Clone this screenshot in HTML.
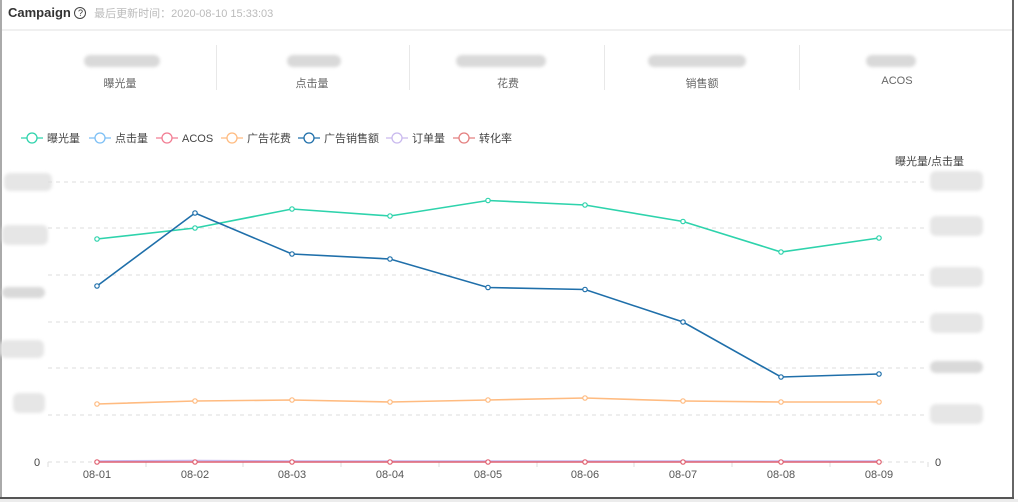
<!DOCTYPE html>
<html><head><meta charset="utf-8"><style>
body{margin:0;width:1018px;height:502px;background:#fff;overflow:hidden;font-family:"Liberation Sans","Noto Sans CJK SC",sans-serif;position:relative}
.b{position:absolute;background:#d9d9d9;border-radius:6px;filter:blur(1.5px)}
.t{position:absolute;font-size:11px;color:#666;text-align:center}
.d{position:absolute;top:45px;width:1px;height:45px;background:#e8e8e8}
</style></head><body>
<div style="position:absolute;left:0;top:0;width:2px;height:502px;background:#aaa"></div>
<div style="position:absolute;right:4px;top:0;width:2px;height:502px;background:#666"></div>
<div style="position:absolute;left:0;bottom:0;width:1018px;height:3px;background:#ececec"></div>
<div style="position:absolute;left:0;top:497px;width:1014px;height:2px;background:#555"></div>
<div style="position:absolute;left:8px;top:5px;font-size:13px;color:#333;font-weight:bold">Campaign <span style="display:inline-block;width:10px;height:10px;border:1.3px solid #444;border-radius:50%;font-size:9px;line-height:10px;text-align:center;font-weight:normal;vertical-align:1px">?</span> <span style="font-weight:normal;color:#bbb;font-size:11px;margin-left:4px">最后更新时间：2020-08-10 15:33:03</span></div>
<div style="position:absolute;left:2px;top:29px;width:1010px;height:2px;background:#f0f0f0"></div>
<div class="b" style="left:84px;top:55px;width:76px;height:12px"></div>
<div class="b" style="left:287px;top:55px;width:54px;height:12px"></div>
<div class="b" style="left:456px;top:55px;width:90px;height:12px"></div>
<div class="b" style="left:648px;top:55px;width:98px;height:12px"></div>
<div class="b" style="left:866px;top:55px;width:50px;height:12px"></div>
<div class="t" style="left:60px;top:75px;width:120px">曝光量</div>
<div class="t" style="left:252px;top:75px;width:120px">点击量</div>
<div class="t" style="left:448px;top:75px;width:120px">花费</div>
<div class="t" style="left:642px;top:75px;width:120px">销售额</div>
<div class="t" style="left:837px;top:75px;width:120px">ACOS</div>
<div class="d" style="left:216px"></div><div class="d" style="left:409px"></div><div class="d" style="left:604px"></div><div class="d" style="left:799px"></div>
<div class="b" style="left:4px;top:173px;width:48px;height:18px;background:#e6e6e6"></div>
<div class="b" style="left:2px;top:225px;width:46px;height:20px;background:#e6e6e6"></div>
<div class="b" style="left:2px;top:287px;width:43px;height:11px"></div>
<div class="b" style="left:0px;top:340px;width:44px;height:18px;background:#e6e6e6"></div>
<div class="b" style="left:13px;top:393px;width:32px;height:20px;background:#e6e6e6"></div>
<div class="b" style="left:930px;top:171px;width:53px;height:20px;background:#e6e6e6"></div>
<div class="b" style="left:930px;top:216px;width:53px;height:20px;background:#e6e6e6"></div>
<div class="b" style="left:930px;top:267px;width:53px;height:20px;background:#e6e6e6"></div>
<div class="b" style="left:930px;top:313px;width:53px;height:20px;background:#e6e6e6"></div>
<div class="b" style="left:930px;top:361px;width:53px;height:12px"></div>
<div class="b" style="left:930px;top:404px;width:53px;height:20px;background:#e6e6e6"></div>
<svg width="1018" height="502" style="position:absolute;left:0;top:0" font-family="Liberation Sans,Noto Sans CJK SC,sans-serif" font-size="11" fill="#333">
<g font-size="11" fill="#444">
<g fill="#fff" stroke-width="1.3">
<line x1="21" y1="138" x2="43" y2="138" stroke="#2ed3ac"/><circle cx="32" cy="138" r="5" stroke="#2ed3ac"/>
<line x1="89" y1="138" x2="111" y2="138" stroke="#7cbff5"/><circle cx="100" cy="138" r="5" stroke="#7cbff5"/>
<line x1="156" y1="138" x2="178" y2="138" stroke="#f27d93"/><circle cx="167" cy="138" r="5" stroke="#f27d93"/>
<line x1="221" y1="138" x2="243" y2="138" stroke="#ffbb80"/><circle cx="232" cy="138" r="5" stroke="#ffbb80"/>
<line x1="298" y1="138" x2="320" y2="138" stroke="#1f6faa"/><circle cx="309" cy="138" r="5" stroke="#1f6faa"/>
<line x1="386" y1="138" x2="408" y2="138" stroke="#c9b9ee"/><circle cx="397" cy="138" r="5" stroke="#c9b9ee"/>
<line x1="453" y1="138" x2="475" y2="138" stroke="#e48080"/><circle cx="464" cy="138" r="5" stroke="#e48080"/>
</g>
<text x="47" y="142">曝光量</text><text x="115" y="142">点击量</text><text x="182" y="142">ACOS</text><text x="247" y="142">广告花费</text><text x="324" y="142">广告销售额</text><text x="412" y="142">订单量</text><text x="479" y="142">转化率</text>
<text x="895" y="165">曝光量/点击量</text>
<text x="34" y="466">0</text><text x="935" y="466">0</text>
</g>
<g stroke="#ddd" stroke-dasharray="4,4"><line x1="48" y1="182" x2="928" y2="182"/><line x1="48" y1="228" x2="928" y2="228"/><line x1="48" y1="275" x2="928" y2="275"/><line x1="48" y1="322" x2="928" y2="322"/><line x1="48" y1="368" x2="928" y2="368"/><line x1="48" y1="415" x2="928" y2="415"/><line x1="48" y1="462" x2="928" y2="462"/></g>
<g stroke="#ddd"><line x1="48" y1="462" x2="48" y2="467"/><line x1="146" y1="462" x2="146" y2="467"/><line x1="243" y1="462" x2="243" y2="467"/><line x1="341" y1="462" x2="341" y2="467"/><line x1="439" y1="462" x2="439" y2="467"/><line x1="537" y1="462" x2="537" y2="467"/><line x1="634" y1="462" x2="634" y2="467"/><line x1="732" y1="462" x2="732" y2="467"/><line x1="830" y1="462" x2="830" y2="467"/><line x1="928" y1="462" x2="928" y2="467"/></g>
<g fill="#555" text-anchor="middle"><text x="97" y="478">08-01</text><text x="195" y="478">08-02</text><text x="292" y="478">08-03</text><text x="390" y="478">08-04</text><text x="488" y="478">08-05</text><text x="585" y="478">08-06</text><text x="683" y="478">08-07</text><text x="781" y="478">08-08</text><text x="879" y="478">08-09</text></g>
<g fill="none" stroke-width="1.6">
<polyline stroke="#c9b9ee" points="97,461 195,460.5 292,461 390,461 488,461 585,461 683,461 781,461 879,461"/>
<polyline stroke="#e06070" points="97,462 195,462 292,462 390,462 488,462 585,462 683,462 781,462 879,462"/>
<polyline stroke="#ffbb80" points="97,404 195,401 292,400 390,402 488,400 585,398 683,401 781,402 879,402"/>
<polyline stroke="#2ed3ac" points="97,239 195,228 292,209 390,216 488,200.5 585,205 683,221.5 781,252 879,238"/>
<polyline stroke="#1f6faa" points="97,286 195,213 292,254 390,259 488,287.5 585,289.5 683,322 781,377 879,374"/>
</g>
<g fill="#fff" stroke-width="1.2">
<g stroke="#e06070"><circle cx="97" cy="462" r="2.2"/><circle cx="195" cy="462" r="2.2"/><circle cx="292" cy="462" r="2.2"/><circle cx="390" cy="462" r="2.2"/><circle cx="488" cy="462" r="2.2"/><circle cx="585" cy="462" r="2.2"/><circle cx="683" cy="462" r="2.2"/><circle cx="781" cy="462" r="2.2"/><circle cx="879" cy="462" r="2.2"/></g>
<g stroke="#ffbb80"><circle cx="97" cy="404" r="2.2"/><circle cx="195" cy="401" r="2.2"/><circle cx="292" cy="400" r="2.2"/><circle cx="390" cy="402" r="2.2"/><circle cx="488" cy="400" r="2.2"/><circle cx="585" cy="398" r="2.2"/><circle cx="683" cy="401" r="2.2"/><circle cx="781" cy="402" r="2.2"/><circle cx="879" cy="402" r="2.2"/></g>
<g stroke="#2ed3ac"><circle cx="97" cy="239" r="2.2"/><circle cx="195" cy="228" r="2.2"/><circle cx="292" cy="209" r="2.2"/><circle cx="390" cy="216" r="2.2"/><circle cx="488" cy="200.5" r="2.2"/><circle cx="585" cy="205" r="2.2"/><circle cx="683" cy="221.5" r="2.2"/><circle cx="781" cy="252" r="2.2"/><circle cx="879" cy="238" r="2.2"/></g>
<g stroke="#1f6faa"><circle cx="97" cy="286" r="2.2"/><circle cx="195" cy="213" r="2.2"/><circle cx="292" cy="254" r="2.2"/><circle cx="390" cy="259" r="2.2"/><circle cx="488" cy="287.5" r="2.2"/><circle cx="585" cy="289.5" r="2.2"/><circle cx="683" cy="322" r="2.2"/><circle cx="781" cy="377" r="2.2"/><circle cx="879" cy="374" r="2.2"/></g>
</g>
</svg>
</body></html>
